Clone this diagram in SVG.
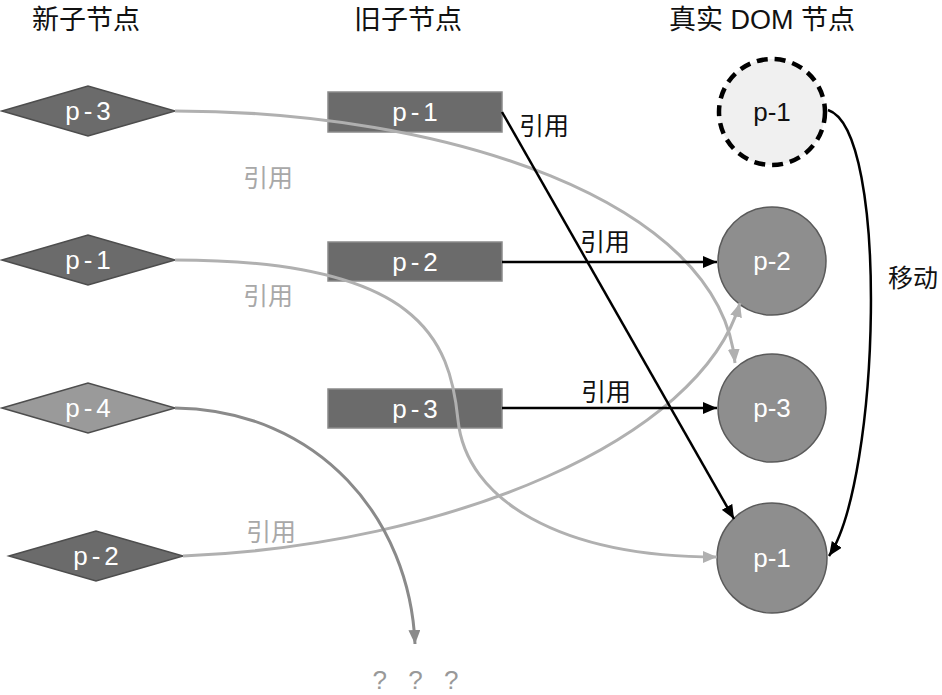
<svg xmlns="http://www.w3.org/2000/svg" width="942" height="695" viewBox="0 0 942 695">
<style>
text{font-family:"Liberation Sans","Noto Sans CJK SC",Arial,sans-serif}
.hdr{font-size:27px;fill:#111;text-anchor:middle}
.dia{stroke:#4d4d4d;stroke-width:1.5}
.dark{fill:#6b6b6b}
.light{fill:#9a9a9a}
.rect{fill:#6b6b6b;stroke:#8a8a8a;stroke-width:1.5}
.circ{fill:#8e8e8e;stroke:#5a5a5a;stroke-width:1.5}
.nl{font-size:26px;fill:#fff;text-anchor:middle;letter-spacing:4px}
.cl{font-size:26px;fill:#fff;text-anchor:middle}
.lbl{font-size:25px;fill:#111}
.glbl{font-size:25px;fill:#a8a8a8}
.blk{fill:none;stroke:#000;stroke-width:2.5}
.gry{fill:none;stroke:#b0b0b0;stroke-width:3}
.dgry{fill:none;stroke:#8a8a8a;stroke-width:3}
</style>
<defs>
<marker id="ab" viewBox="0 0 14 12" refX="14" refY="6" markerWidth="14" markerHeight="12" markerUnits="userSpaceOnUse" orient="auto"><path d="M0,0 L14,6 L0,12 Z" fill="#000"/></marker>
<marker id="ag" viewBox="0 0 14 12" refX="14" refY="6" markerWidth="14" markerHeight="12" markerUnits="userSpaceOnUse" orient="auto"><path d="M0,0 L14,6 L0,12 Z" fill="#b0b0b0"/></marker>
<marker id="ad" viewBox="0 0 14 12" refX="14" refY="6" markerWidth="14" markerHeight="12" markerUnits="userSpaceOnUse" orient="auto"><path d="M0,0 L14,6 L0,12 Z" fill="#8a8a8a"/></marker>
</defs>

<g id="headers">
<text class="hdr" x="86" y="29">新子节点</text>
<text class="hdr" x="408" y="29">旧子节点</text>
<text class="hdr" x="762" y="29">真实 DOM 节点</text>
</g>

<g id="new-p3"><polygon class="dia dark" points="2,111 88,86 175,111 88,136"/><text class="nl" x="90" y="120">p-3</text></g>
<g id="new-p1"><polygon class="dia dark" points="2,260 88,235 175,260 88,285"/><text class="nl" x="90" y="269">p-1</text></g>
<g id="new-p4"><polygon class="dia light" points="2,408 88,383 175,408 88,433"/><text class="nl" x="90" y="417">p-4</text></g>
<g id="new-p2"><polygon class="dia dark" points="9,556 96,531 183,556 96,581"/><text class="nl" x="98" y="565">p-2</text></g>

<g id="old-p1"><rect class="rect" x="328" y="92" width="174" height="40"/><text class="nl" x="417" y="121">p-1</text></g>
<g id="old-p2"><rect class="rect" x="328" y="242" width="174" height="39"/><text class="nl" x="417" y="271">p-2</text></g>
<g id="old-p3"><rect class="rect" x="328" y="389" width="174" height="39"/><text class="nl" x="417" y="418">p-3</text></g>

<g id="dom-p1-old"><circle cx="772" cy="112" r="53" fill="#f0f0f0" stroke="#000" stroke-width="4.5" stroke-dasharray="11,7"/><text class="cl" x="772" y="121" style="fill:#111">p-1</text></g>
<g id="dom-p2"><circle class="circ" cx="772" cy="261" r="54"/><text class="cl" x="772" y="270">p-2</text></g>
<g id="dom-p3"><circle class="circ" cx="772" cy="408" r="54"/><text class="cl" x="772" y="417">p-3</text></g>
<g id="dom-p1"><circle class="circ" cx="772" cy="558" r="55"/><text class="cl" x="772" y="567">p-1</text></g>

<g id="connectors">
<path class="gry" d="M175,111 C 445,111 720,200 735,363" marker-end="url(#ag)"/>
<path class="gry" d="M175,260 C 420,260 450,340 458,420 C 466,500 560,557 717,557" marker-end="url(#ag)"/>
<path class="gry" d="M183,556 C 450,545 700,440 740,303" marker-end="url(#ag)"/>
<path class="dgry" d="M175,408 C 320,410 410,520 415,644" marker-end="url(#ad)"/>
<path class="blk" d="M502,112 L734,519" marker-end="url(#ab)"/>
<path class="blk" d="M502,262 L717,262" marker-end="url(#ab)"/>
<path class="blk" d="M502,408 L717,408" marker-end="url(#ab)"/>
<path class="blk" d="M828,110 C 890,130 880,480 829,556" marker-end="url(#ab)"/>
<text class="glbl" x="243" y="187">引用</text>
<text class="glbl" x="243" y="305">引用</text>
<text class="glbl" x="246" y="541">引用</text>
<text class="lbl" x="519" y="135">引用</text>
<text class="lbl" x="580" y="251">引用</text>
<text class="lbl" x="581" y="401">引用</text>
<text class="lbl" x="888" y="287">移动</text>
<text x="419" y="689" style="font-size:26px;fill:#999;text-anchor:middle;letter-spacing:7px">? ? ?</text>
</g>
</svg>
